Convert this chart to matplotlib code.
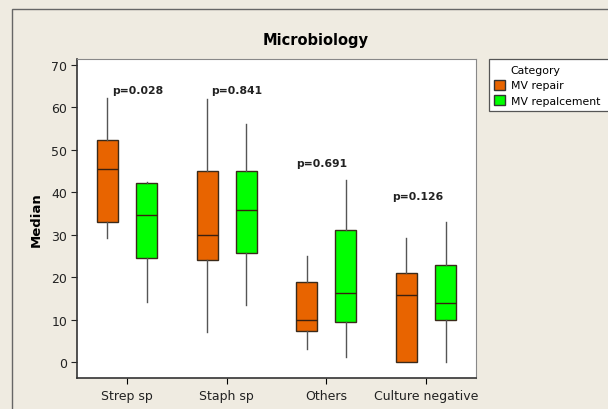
import matplotlib
matplotlib.use("Agg")
import matplotlib.pyplot as plt
from matplotlib.patches import Rectangle, Patch

categories = ["Strep sp", "Staph sp", "Others", "Culture negative"]
groups = ["MV repair", "MV repalcement"]

# five-number summaries: whisker low, Q1, median, Q3, whisker high
repair_low = [29.3, 7.1, 3.1, 0.0]
repair_q1 = [33.0, 24.0, 7.3, 0.0]
repair_med = [45.4, 30.0, 10.0, 15.8]
repair_q3 = [52.4, 45.0, 19.0, 21.0]
repair_high = [62.2, 62.0, 25.0, 29.2]

repl_low = [14.3, 13.6, 1.3, 0.1]
repl_q1 = [24.5, 25.7, 9.6, 10.0]
repl_med = [34.7, 35.9, 16.2, 14.0]
repl_q3 = [42.3, 45.0, 31.1, 23.0]
repl_high = [42.5, 56.2, 42.9, 33.0]

p_labels = ["p=0.028", "p=0.841", "p=0.691", "p=0.126"]
p_y = [64.0, 64.1, 46.8, 39.1]
p_dx = [0.11, 0.10, -0.05, -0.08]

colors = ["#E86400", "#00FF00"]
bg = "#EFEBE1"

fig = plt.figure(figsize=(6.08, 4.10), dpi=100)
fig.patch.set_facecolor(bg)
fig.patches.append(Rectangle((12/608, -0.05), 1.2, 1 - 10/410 + 0.05,
                             transform=fig.transFigure, fill=False,
                             edgecolor="#666666", linewidth=1.0, zorder=0))

ax = fig.add_axes([77.5/608, 31/410, 398.3/608, 319/410])
ax.set_facecolor("white")

def make_stats(low, q1, med, q3, high):
    return [dict(whislo=a, q1=b, med=c, q3=d, whishi=e, fliers=[])
            for a, b, c, d, e in zip(low, q1, med, q3, high)]

pos = list(range(1, len(categories) + 1))
offset = 0.196
width = 0.21
sets = [
    make_stats(repair_low, repair_q1, repair_med, repair_q3, repair_high),
    make_stats(repl_low, repl_q1, repl_med, repl_q3, repl_high),
]
for i, st in enumerate(sets):
    sgn = -1 if i == 0 else 1
    ax.bxp(st, positions=[p + sgn * offset for p in pos], widths=width,
           showcaps=False, showfliers=False, patch_artist=True,
           boxprops=dict(facecolor=colors[i], edgecolor="#3a2a1a", linewidth=1.0),
           medianprops=dict(color="#3a2010", linewidth=1.0),
           whiskerprops=dict(color="#555555", linewidth=1.0),
           manage_ticks=False)

for p, lab, y, dx in zip(pos, p_labels, p_y, p_dx):
    ax.text(p + dx, y, lab, ha="center", va="center", fontsize=7.8,
            fontweight="bold", color="#222222")

ax.set_xlim(0.5035, 4.5)
ax.set_ylim(-3.7, 71.4)
ax.set_xticks(pos)
ax.set_xticklabels(categories, fontsize=9, color="#222222")
ax.set_yticks(range(0, 71, 10))
ax.tick_params(axis="y", labelsize=9, colors="#222222", length=4, width=0.8)
ax.tick_params(axis="x", length=4, width=0.8, pad=4)
for s in ["top", "right"]:
    ax.spines[s].set_color("#888888")
for s in ["left", "bottom"]:
    ax.spines[s].set_color("#333333")
    ax.spines[s].set_linewidth(1.2)
ax.set_ylabel("Median", fontsize=9.5, fontweight="bold", labelpad=6)

fig.text(316/608, 1 - 40/410, "Microbiology", ha="center", va="center",
         fontsize=10.5, fontweight="bold")

handles = [Patch(facecolor="none", edgecolor="none", label="Category")]
handles += [Patch(facecolor=c, edgecolor="#333333", label=g) for c, g in zip(colors, groups)]
leg = fig.legend(handles=handles, loc="upper left",
                 bbox_to_anchor=(489/608, 1 - 108.7/410, 130/608, 48.7/410),
                 mode="expand", fontsize=7.8,
                 frameon=True, fancybox=False, framealpha=1,
                 edgecolor="#555555", handlelength=1.0, handleheight=1.0,
                 handletextpad=0.5, borderpad=0.5, labelspacing=0.45,
                 borderaxespad=0)
leg.get_frame().set_linewidth(0.9)
leg.get_frame().set_facecolor("white")

fig.savefig("out.png", dpi=100, facecolor=bg)
